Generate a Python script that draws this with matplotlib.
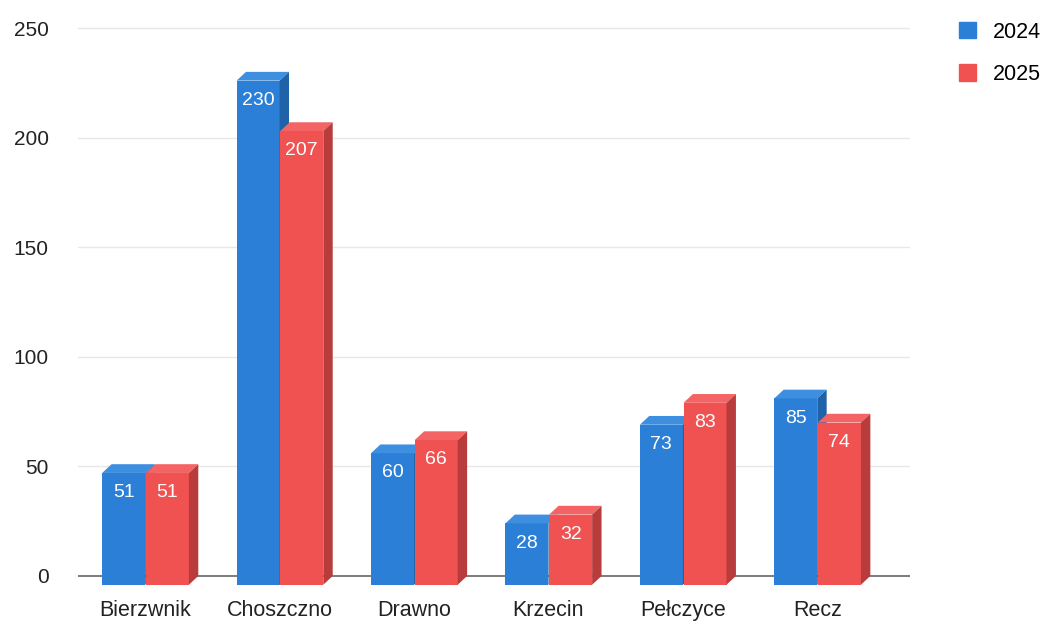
import matplotlib.pyplot as plt
from matplotlib.patches import Polygon, Patch

plt.rcParams['font.family'] = ['Liberation Sans', 'DejaVu Sans']

categories = ['Bierzwnik', 'Choszczno', 'Drawno', 'Krzecin', 'Pełczyce', 'Recz']
vals_2024 = [51, 230, 60, 28, 73, 85]
vals_2025 = [51, 207, 66, 32, 83, 74]
series = ['2024', '2025']

front = {'2024': '#2b7fd6', '2025': '#f05252'}
top = {'2024': '#3f8fe0', '2025': '#f46464'}
side = {'2024': '#1f62a8', '2025': '#b83c3c'}

W = 0.32   # front width
DX = 0.07  # depth in x
DY = 4.0   # depth in y

fig = plt.figure(figsize=(10.45, 6.21), dpi=100)
ax = fig.add_axes([78/1045, 27.5/621, 832/1045, 587.4/621])
ax.set_xlim(-0.5, 5.69)
ax.set_ylim(-8, 260)

for t in [50, 100, 150, 200, 250]:
    ax.axhline(t, color='#e8e8e8', lw=1, zorder=0)
ax.axhline(0, color='#666666', lw=1.2, zorder=0)


def box(x0, v, name):
    ax.add_patch(Polygon([(x0, -DY), (x0 + W, -DY), (x0 + W, v - DY), (x0, v - DY)],
                         closed=True, fc=front[name], ec='none', zorder=2))
    ax.add_patch(Polygon([(x0, v - DY), (x0 + DX, v), (x0 + W + DX, v), (x0 + W, v - DY)],
                         closed=True, fc=top[name], ec='none', zorder=2))
    ax.add_patch(Polygon([(x0 + W, -DY), (x0 + W + DX, 0), (x0 + W + DX, v), (x0 + W, v - DY)],
                         closed=True, fc=side[name], ec='none', zorder=2))
    ax.text(x0 + W / 2, v - DY - 9, str(v), color='white', fontsize=14,
            ha='center', va='center', zorder=3)


for i in range(len(categories)):
    box(i - W, vals_2024[i], '2024')
    box(i + 0.005, vals_2025[i], '2025')

for s in ax.spines.values():
    s.set_visible(False)
ax.set_yticks([0, 50, 100, 150, 200, 250])
ax.set_xticks(range(len(categories)))
ax.set_xticklabels(categories)
ax.tick_params(axis='both', length=0, labelsize=15, colors='#222222')
ax.tick_params(axis='y', pad=21)
ax.tick_params(axis='x', pad=5, labelsize=15.5)

handles = [Patch(color=front[s]) for s in series]
fig.legend(handles, series, loc='upper right', bbox_to_anchor=(1.017, 1.0),
           frameon=False, fontsize=15.5, handlelength=0.8, handleheight=0.8,
           labelspacing=1.0, handletextpad=0.8, borderaxespad=0.6)

fig.savefig('out.png', dpi=100)
